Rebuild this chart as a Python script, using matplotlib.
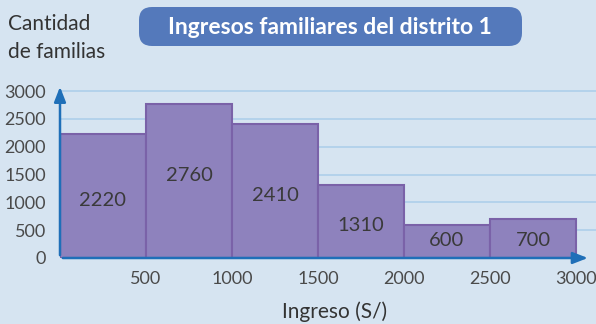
import matplotlib.pyplot as plt
from matplotlib.patches import FancyBboxPatch

# Histogram of family income, district 1
bin_edges = [0, 500, 1000, 1500, 2000, 2500, 3000]
families = [2220, 2760, 2410, 1310, 600, 700]
y_ticks = [0, 500, 1000, 1500, 2000, 2500, 3000]
x_ticks = [500, 1000, 1500, 2000, 2500, 3000]

# where each count label sits inside its bar
label_y = [1040, 1490, 1130, 575, 320, 320]

BG = "#d6e4f1"
BAR = "#8e82bd"
BAR_EDGE = "#7a62a8"
AXIS = "#1f6fb8"
GRID = "#aecfea"
TEXT = "#333333"

plt.rcParams["font.family"] = ["Lato", "DejaVu Sans"]

fig = plt.figure(figsize=(5.96, 3.24), dpi=100, facecolor=BG)
ax = fig.add_axes([60 / 596, 66 / 324, 536 / 596, 174 / 324])
ax.set_facecolor(BG)

xmax = 3000 * 536 / 516
ymax = 3000 * 174 / 167
ax.set_xlim(0, xmax)
ax.set_ylim(0, ymax)

for y in y_ticks[1:]:
    ax.axhline(y, color=GRID, lw=1.2, zorder=0)

widths = [b - a for a, b in zip(bin_edges[:-1], bin_edges[1:])]
ax.bar(bin_edges[:-1], families, width=widths, align="edge",
       color=BAR, edgecolor=BAR_EDGE, linewidth=1.5, zorder=2)

for left, w, ly, v in zip(bin_edges[:-1], widths, label_y, families):
    ax.text(left + w / 2, ly, str(v), ha="center", va="center",
            fontsize=14.5, color="#3a3a3a", zorder=3)

for s in ax.spines.values():
    s.set_visible(False)

# axes drawn as arrows
arrow = dict(arrowstyle="-|>,head_length=0.9,head_width=0.35", color=AXIS, lw=1.8)
ax.annotate("", xy=(0.99, 0), xytext=(0, 0), xycoords="axes fraction",
            arrowprops=arrow, zorder=4)
ax.annotate("", xy=(0, 1.0), xytext=(0, 0), xycoords="axes fraction",
            arrowprops=arrow, zorder=4)

ax.set_yticks(y_ticks)
ax.set_yticklabels([str(t) for t in y_ticks])
ax.set_xticks(x_ticks)
ax.set_xticklabels([str(t) for t in x_ticks])
ax.tick_params(length=0, labelsize=13, labelcolor="#4a4a4a")
ax.tick_params(axis="x", pad=9)
ax.tick_params(axis="y", pad=10)

fig.text(335 / 596, 1 - 312 / 324, "Ingreso (S/)", ha="center", va="center",
         fontsize=15, color=TEXT)
fig.text(8 / 596, 1 - 38 / 324, "Cantidad\nde familias", ha="left", va="center",
         fontsize=15, color=TEXT, linespacing=1.5)

# title in a rounded blue box, drawn on a pixel-scaled overlay
over = fig.add_axes([0, 0, 1, 1], zorder=10)
over.set_xlim(0, 596)
over.set_ylim(324, 0)
over.axis("off")
over.add_patch(FancyBboxPatch((139, 7), 383, 39,
                              boxstyle="round,pad=0,rounding_size=13",
                              facecolor="#5479bb", edgecolor="none"))
over.text(330, 27, "Ingresos familiares del distrito 1",
          ha="center", va="center", fontsize=16.5, color="white", fontweight="bold")

fig.savefig("out.png", dpi=100, facecolor=BG)
